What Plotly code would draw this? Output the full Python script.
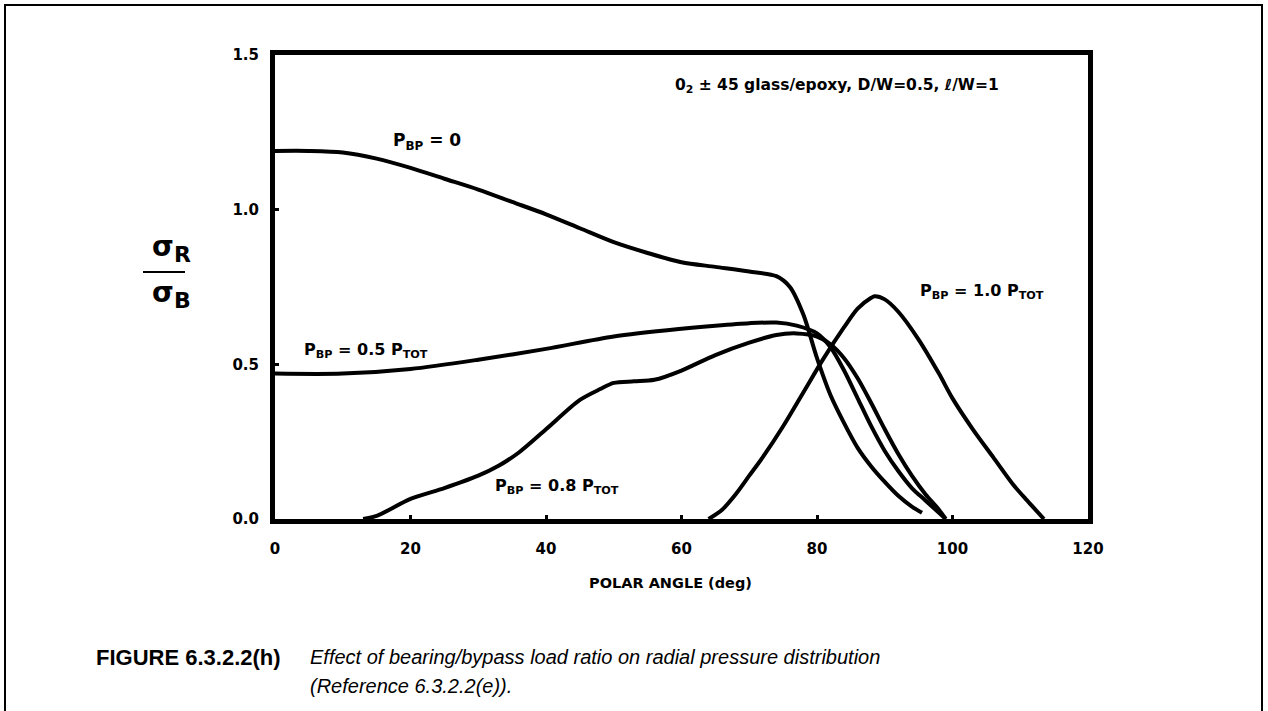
import plotly.graph_objects as go

# ---- data ----
angle_p0 = [0, 5, 10, 15, 20, 25, 30, 35, 40, 45, 50, 55, 60, 65, 70, 74, 76, 78, 80, 82, 84, 86, 88, 90, 92, 94, 95.5]
ratio_p0 = [1.19, 1.19, 1.185, 1.165, 1.135, 1.10, 1.065, 1.025, 0.985, 0.94, 0.895, 0.86, 0.83, 0.815, 0.80, 0.785, 0.75, 0.66, 0.52, 0.40, 0.31, 0.23, 0.17, 0.12, 0.075, 0.04, 0.02]

angle_p05 = [0, 10, 20, 30, 40, 50, 60, 65, 70, 74, 77, 80, 82, 84, 86, 88, 90, 92, 94, 96, 98, 99]
ratio_p05 = [0.47, 0.47, 0.485, 0.515, 0.55, 0.59, 0.615, 0.625, 0.633, 0.635, 0.625, 0.60, 0.555, 0.48, 0.39, 0.30, 0.22, 0.155, 0.10, 0.06, 0.02, 0.0]

angle_p08 = [13, 15, 20, 25, 30, 33, 36, 40, 45, 48, 50, 53, 56, 60, 65, 70, 74, 77, 80, 82, 84, 86, 88, 90, 92, 94, 96, 98, 99]
ratio_p08 = [0.0, 0.01, 0.065, 0.10, 0.14, 0.172, 0.215, 0.29, 0.385, 0.42, 0.44, 0.445, 0.45, 0.48, 0.53, 0.57, 0.595, 0.60, 0.59, 0.565, 0.52, 0.455, 0.375, 0.29, 0.21, 0.14, 0.08, 0.03, 0.0]

angle_p10 = [64, 66, 68, 70, 72, 75, 78, 81, 84, 86, 88, 88.5, 90, 92, 95, 98, 100, 103, 106, 109, 111, 113.5]
ratio_p10 = [0.0, 0.03, 0.08, 0.14, 0.2, 0.30, 0.41, 0.52, 0.62, 0.68, 0.715, 0.72, 0.71, 0.67, 0.58, 0.47, 0.39, 0.29, 0.2, 0.11, 0.06, 0.0]

x_ticks = [0, 20, 40, 60, 80, 100, 120]
y_ticks = [0.0, 0.5, 1.0, 1.5]

series = [
    ("P_BP = 0", angle_p0, ratio_p0),
    ("P_BP = 0.5 P_TOT", angle_p05, ratio_p05),
    ("P_BP = 0.8 P_TOT", angle_p08, ratio_p08),
    ("P_BP = 1.0 P_TOT", angle_p10, ratio_p10),
]

W, H = 1268, 711
ML, MR, MT, MB = 275, 180, 55, 192
PW, PH = W - ML - MR, H - MT - MB

def px(x):
    return (x - ML) / PW

def py(y):
    return (H - MB - y) / PH

fig = go.Figure()
for name, xs, ys in series:
    fig.add_trace(go.Scatter(x=xs, y=ys, mode="lines", name=name,
                             line=dict(color="black", width=4, shape="spline", smoothing=0.8),
                             showlegend=False, hoverinfo="skip"))

BOLD = dict(family="DejaVu Sans", size=16, color="black", weight="bold")

ann = []
# curve labels (data coords)
ann.append(dict(x=22.4, y=1.22, text="P<sub>BP</sub> = 0", font=dict(family="DejaVu Sans", size=17, color="black", weight="bold")))
ann.append(dict(x=13.5, y=0.545, text="P<sub>BP</sub> = 0.5 P<sub>TOT</sub>"))
ann.append(dict(x=41.6, y=0.105, text="P<sub>BP</sub> = 0.8 P<sub>TOT</sub>"))
ann.append(dict(x=104.4, y=0.735, text="P<sub>BP</sub> = 1.0 P<sub>TOT</sub>"))
ann.append(dict(x=82.9, y=1.40, text="0<sub>2</sub> ± 45 glass/epoxy, D/W=0.5, ℓ/W=1",
                font=dict(family="DejaVu Sans", size=15.5, color="black", weight="bold")))
for a in ann:
    a.setdefault("font", BOLD)
    a.update(xref="x", yref="y", showarrow=False, xanchor="center", yanchor="middle")

# y-axis title as a fraction
paper_ann = [
    dict(x=px(163), y=py(246), text="σ", font=dict(family="DejaVu Sans", size=28, color="black", weight="bold")),
    dict(x=px(182), y=py(254), text="R", font=dict(family="DejaVu Sans", size=22, color="black", weight="bold")),
    dict(x=px(163), y=py(292), text="σ", font=dict(family="DejaVu Sans", size=28, color="black", weight="bold")),
    dict(x=px(182), y=py(300), text="B", font=dict(family="DejaVu Sans", size=22, color="black", weight="bold")),
    dict(x=px(670), y=py(583), text="POLAR ANGLE (deg)", font=dict(family="DejaVu Sans", size=14.5, color="black", weight="bold")),
]
for a in paper_ann:
    a.update(xref="paper", yref="paper", showarrow=False, xanchor="center", yanchor="middle")

cap = [
    dict(x=px(94), y=py(657), text="<b>FIGURE 6.3.2.2(h)</b>", xanchor="left",
         font=dict(family="Liberation Sans", size=22, color="black")),
    dict(x=px(308), y=py(657), text="<i>Effect of bearing/bypass load ratio on radial pressure distribution</i>", xanchor="left",
         font=dict(family="Liberation Sans", size=20, color="black")),
    dict(x=px(308), y=py(686), text="<i>(Reference 6.3.2.2(e)).</i>", xanchor="left",
         font=dict(family="Liberation Sans", size=20, color="black")),
]
for a in cap:
    a.update(xref="paper", yref="paper", showarrow=False, yanchor="middle")

fig.update_layout(annotations=ann + paper_ann + cap)

fig.add_shape(type="line", xref="paper", yref="paper", x0=px(143), x1=px(185), y0=py(272), y1=py(272),
              line=dict(color="black", width=2))
# outer frame
fig.add_shape(type="rect", xref="paper", yref="paper", x0=px(5), x1=px(1262), y0=py(725), y1=py(5),
              line=dict(color="black", width=2), layer="below")

fig.update_xaxes(range=[0, 120], tickvals=x_ticks, ticktext=[str(v) for v in x_ticks],
                 showgrid=False, zeroline=False, showline=True, linecolor="black", linewidth=5, mirror=True,
                 ticks="inside", ticklen=4, tickwidth=3, tickcolor="black",
                 tickfont=dict(family="DejaVu Sans", size=15, color="black", weight="bold"),
                 ticklabelstandoff=12)
fig.update_yaxes(range=[0, 1.5], tickvals=y_ticks, ticktext=["%.1f" % v for v in y_ticks],
                 showgrid=False, zeroline=False, showline=True, linecolor="black", linewidth=5, mirror=True,
                 ticks="inside", ticklen=4, tickwidth=3, tickcolor="black",
                 tickfont=dict(family="DejaVu Sans", size=15, color="black", weight="bold"),
                 ticklabelstandoff=8)

fig.update_layout(width=W, height=H, autosize=False,
                  margin=dict(l=ML, r=MR, t=MT, b=MB, pad=0),
                  paper_bgcolor="white", plot_bgcolor="white")

fig.write_html("out.html", config={"displayModeBar": False},
               post_script="document.body.style.margin='0';document.body.style.overflow='hidden';")
